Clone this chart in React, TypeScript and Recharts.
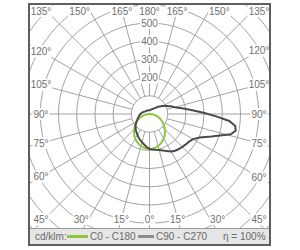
import React from 'react';
import { RadarChart, PolarGrid, PolarAngleAxis, PolarRadiusAxis, Radar } from 'recharts';

// gamma angles (0 = down, 90 = right, 180 = up, 270 = left)
const angles = [0, 5, 10, 15, 20, 25, 30, 35, 40, 45, 50, 55, 60, 65, 70, 73, 76, 79, 82, 85, 88, 91, 95, 100, 105, 110, 115, 120, 130, 140, 150, 160, 170, 180, 195, 210, 225, 240, 250, 260, 270, 275, 280, 285, 290, 295, 300, 305, 310, 315, 320, 325, 330, 335, 340, 345, 350, 355];
const c0c180 = [192, 191, 188, 182, 175, 166, 156, 145, 132, 119, 106, 93, 80, 67, 53, 45, 37, 29, 21, 13, 5, 0, 0, 0, 0, 0, 0, 0, 0, 0, 0, 0, 0, 0, 0, 0, 0, 0, 0, 0, 0, 13, 26, 40, 53, 67, 80, 93, 106, 119, 132, 145, 156, 166, 175, 182, 188, 191];
const c90c270 = [192, 196, 200, 205, 213, 225, 238, 246, 251, 255, 260, 265, 276, 305, 362, 405, 460, 482, 476, 440, 367, 302, 237, 181, 143, 124, 105, 90, 62, 40, 32, 26, 22, 20, 21, 22, 24, 28, 34, 42, 50, 54, 58, 62, 68, 74, 83, 91, 100, 108, 117, 124, 132, 142, 152, 160, 170, 182];

const tickAngles = [0, 15, 30, 45, 60, 75, 90, 105, 120, 135, 150, 165, 180, 195, 210, 225, 240, 255, 270, 285, 300, 315, 330, 345];
const ringValues = [100, 200, 300, 400, 500, 600, 700, 800, 900, 1000];
const labeledRings = [200, 300, 400, 500];
const seriesNames = ['C0 - C180', 'C90 - C270'];
const seriesColors = ['#8cc63e', '#4a4a4a'];
const legendColors = ['#8cc63e', '#8a8a8a'];
const unitLabel = 'cd/klm:';
const efficiencyLabel = 'η = 100%';

const rows = angles.map((angle, i) => ({ angle, c0: c0c180[i], c90: c90c270[i] }));

const W = 239;
const H = 223;
const CX = 119.5;
const CY = 109;
const FONT = 'Arial, "Liberation Sans", Helvetica, sans-serif';
const BOX = { left: -108.5, right: 109.5, top: -103, bottom: 105 };

const textWidth = (s: string) => {
  let w = 0;
  for (const ch of s) w += ch === '°' ? 4 : 5.56;
  return w;
};

const AngleTick = (props: any) => {
  const v = Number(props.payload?.value ?? 0);
  const rad = (v * Math.PI) / 180;
  const dx = Math.sin(rad);
  const dy = Math.cos(rad);
  const text = `${v <= 180 ? v : 360 - v}°`;
  const w = textWidth(text);
  let t = Infinity;
  let edge = '';
  if (dx > 1e-6 && BOX.right / dx < t) { t = BOX.right / dx; edge = 'side'; }
  if (dx < -1e-6 && BOX.left / dx < t) { t = BOX.left / dx; edge = 'side'; }
  if (dy > 1e-6 && BOX.bottom / dy < t) { t = BOX.bottom / dy; edge = 'tb'; }
  if (dy < -1e-6 && BOX.top / dy < t) { t = BOX.top / dy; edge = 'tb'; }
  let x = CX + t * dx;
  const y = CY + t * dy;
  if (edge === 'tb' && Math.abs(t * dx) > 50) x += Math.sign(dx) * (w / 2);
  x = Math.max(CX + BOX.left, Math.min(CX + BOX.right, x));
  return (
    <g>
      <rect x={x - w / 2 - 1} y={y - 6} width={w + 2} height={12} fill="#fff" />
      <text x={x} y={y} dy="0.35em" textAnchor="middle" fontSize={10} fontFamily={FONT} fill="#707070">
        {text}
      </text>
    </g>
  );
};

const RadiusTick = (props: any) => {
  const v = Number(props.payload?.value ?? 0);
  if (!labeledRings.includes(v)) return <g />;
  const { x, y } = props;
  const text = String(v);
  const w = textWidth(text);
  return (
    <g>
      <rect x={x - w / 2 - 1} y={y - 6} width={w + 2} height={12} fill="#fff" />
      <text x={x} y={y} dy="0.35em" textAnchor="middle" fontSize={10} fontFamily={FONT} fill="#707070">
        {text}
      </text>
    </g>
  );
};

export default function App() {
  return (
    <div style={{ position: 'absolute', left: 0, top: 0, width: 300, height: 250, background: '#fff', fontFamily: FONT }}>
      <div
        style={{
          position: 'absolute',
          left: 28,
          top: 3,
          width: 243,
          height: 243,
          border: '2px solid #5e5e5e',
          boxSizing: 'border-box',
          overflow: 'hidden',
        }}
      >
        <div style={{ position: 'absolute', left: 0, top: 0, width: W, height: H, overflow: 'hidden' }}>
          <RadarChart
            width={W}
            height={H}
            data={rows}
            cx={CX}
            cy={CY}
            innerRadius={18.2}
            outerRadius={182}
            startAngle={-90}
            endAngle={270}
            margin={{ top: 0, right: 0, bottom: 0, left: 0 }}
          >
            <PolarGrid gridType="circle" stroke="#999" strokeWidth={0.9} />
            <PolarAngleAxis
              type="number"
              dataKey="angle"
              domain={[0, 360]}
              ticks={tickAngles}
              tick={AngleTick}
              axisLine={false}
              tickLine={false}
            />
            <PolarRadiusAxis
              type="number"
              angle={90}
              domain={[100, 1000]}
              ticks={ringValues}
              tickCount={10}
              allowDataOverflow
              axisLine={false}
              tickLine={false}
              tick={RadiusTick}
            />
            <Radar
              name={seriesNames[0]}
              dataKey="c0"
              stroke={seriesColors[0]}
              strokeWidth={2}
              fill="none"
              fillOpacity={0}
              dot={false}
              isAnimationActive={false}
            />
            <Radar
              name={seriesNames[1]}
              dataKey="c90"
              stroke={seriesColors[1]}
              strokeWidth={2}
              fill="none"
              fillOpacity={0}
              dot={false}
              isAnimationActive={false}
            />
          </RadarChart>
        </div>
        <div
          style={{
            position: 'absolute',
            left: 0,
            top: 223,
            width: 239,
            height: 16,
            background: '#e6e6e6',
            borderTop: '1px solid #9a9a9a',
            boxSizing: 'border-box',
            fontSize: 10,
            color: '#6a6a6a',
            lineHeight: '15px',
            whiteSpace: 'nowrap',
          }}
        >
          <span style={{ position: 'absolute', left: 5 }}>{unitLabel}</span>
          <span style={{ position: 'absolute', left: 37, top: 6, width: 21, height: 3, background: legendColors[0] }} />
          <span style={{ position: 'absolute', left: 60 }}>{seriesNames[0]}</span>
          <span style={{ position: 'absolute', left: 108, top: 6, width: 16, height: 3, background: legendColors[1] }} />
          <span style={{ position: 'absolute', left: 126 }}>{seriesNames[1]}</span>
          <span style={{ position: 'absolute', left: 193 }}>{efficiencyLabel}</span>
        </div>
      </div>
    </div>
  );
}
